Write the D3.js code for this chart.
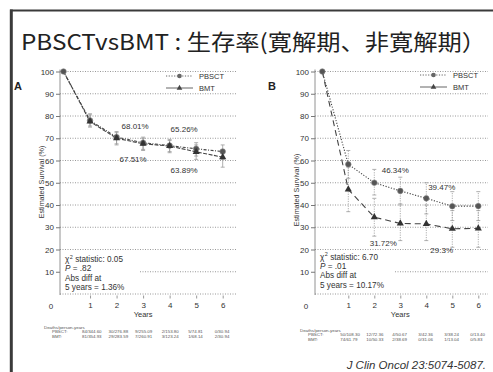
<!DOCTYPE html>
<html>
<head>
<meta charset="utf-8">
<script src="https://cdn.jsdelivr.net/npm/d3@7/dist/d3.min.js"></script>
<style>
  html, body { margin: 0; padding: 0; background: #fff; }
  svg { display: block; }
  text { font-family: "Liberation Sans", Arial, sans-serif; fill: #333; }
</style>
</head>
<body>
<svg id="chart" width="493" height="372"></svg>
<script>
// ---- data ----
const years = [0, 1, 2, 3, 4, 5, 6];
const yTicks = [10, 20, 30, 40, 50, 60, 70, 80, 90, 100];
const seriesNames = ["PBSCT", "BMT"];

// Panel A: remission
const pbsctA = [100, 78, 70.5, 68.01, 66.7, 65.26, 64];
const pbsctALo = [100, 75.5, 67.5, 65, 64, 62, 60.5];
const pbsctAHi = [100, 81, 73, 70.5, 69.5, 68, 67];
const bmtA = [100, 77.5, 70, 67.51, 66.5, 63.89, 61.5];
const bmtALo = [100, 75, 67, 64.5, 63.5, 60.5, 57];
const bmtAHi = [100, 80.5, 72.5, 70, 69, 67, 65];
const statsA = ["0.05", ".82", "1.36%"];
const deathsA = {
  PBSCT: ["84/344.60", "30/276.88", "9/255.09", "2/153.80", "5/74.81", "0/30.94"],
  BMT: ["81/354.93", "29/283.59", "7/260.91", "3/123.24", "1/68.14", "2/30.94"]
};

// Panel B: non-remission
const pbsctB = [100, 58.3, 50, 46.34, 43, 39.47, 39.5];
const pbsctBLo = [100, 52, 44.5, 40.5, 36, 33, 33];
const pbsctBHi = [100, 64.5, 56, 52.5, 50, 46, 46];
const bmtB = [100, 47, 34.5, 31.72, 31.5, 29.3, 29.5];
const bmtBLo = [100, 37, 26, 24, 24, 21, 21];
const bmtBHi = [100, 57, 43, 40, 40, 37.5, 37.5];
const statsB = ["6.70", ".01", "10.17%"];
const deathsB = {
  PBSCT: ["50/108.30", "12/72.36", "4/50.67", "3/42.36", "3/38.24", "0/13.40"],
  BMT: ["74/61.79", "10/50.33", "2/38.69", "0/31.06", "1/13.04", "0/5.83"]
};

const svg = d3.select("#chart");

// frame and title
svg.append("line").attr("x1", 10).attr("x2", 493).attr("y1", 10.5).attr("y2", 10.5)
  .attr("stroke", "#3a3a3a").attr("stroke-width", 2.2);
svg.append("line").attr("x1", 11.3).attr("x2", 11.3).attr("y1", 9.5).attr("y2", 372)
  .attr("stroke", "#3a3a3a").attr("stroke-width", 3);
svg.append("text")
  .attr("x", 21).attr("y", 50)
  .attr("textLength", 465).attr("lengthAdjust", "spacingAndGlyphs")
  .style("font-family", '"Noto Sans CJK JP", "Noto Sans", sans-serif')
  .style("font-size", "22px").style("fill", "#222")
  .text("PBSCTvsBMT : 生存率(寛解期、非寛解期）");

function drawPanel(cfg) {
  const g = svg.append("g");
  const x = d3.scaleLinear().domain([0, 6]).range([cfg.x0, cfg.x6]);
  const y = d3.scaleLinear().domain([0, 100]).range([294, 71.5]);

  // horizontal dotted grid
  const gridVals = [0].concat(yTicks);
  g.selectAll(".grid").data(gridVals).enter().append("line")
    .attr("x1", d => (d === 10 ? cfg.grid10Start : cfg.axisX))
    .attr("x2", cfg.right)
    .attr("y1", d => y(d)).attr("y2", d => y(d))
    .attr("stroke", "#777").attr("stroke-width", 0.75)
    .attr("stroke-dasharray", "1,1.5");

  // y axis
  const yAxis = d3.axisLeft(y).tickValues(yTicks).tickSize(4).tickPadding(2);
  const ya = g.append("g").attr("transform", `translate(${cfg.axisX},0)`).call(yAxis);
  ya.select(".domain").attr("d", `M0,${y(100) - 2}V${y(0) + 1}`).attr("stroke", "#777").attr("stroke-width", 0.8);
  ya.selectAll(".tick line").attr("stroke", "#777");
  ya.selectAll("text").style("font-size", "8px").style("fill", "#333")
    .style("font-family", '"Liberation Sans", Arial, sans-serif');

  // x axis tick labels
  const xAxis = d3.axisBottom(x).tickValues(years.slice(1)).tickSize(3).tickPadding(4).tickFormat(d3.format("d"));
  const xa = g.append("g").attr("transform", `translate(0,${y(0) + 1.5})`).call(xAxis);
  xa.select(".domain").remove();
  xa.selectAll(".tick line").attr("stroke", "#999");
  xa.selectAll("text").style("font-size", "8px").style("fill", "#333")
    .style("font-family", '"Liberation Sans", Arial, sans-serif');
  g.append("text").attr("x", cfg.axisX - 9).attr("y", 309).attr("text-anchor", "middle")
    .style("font-size", "8px").text("0");
  g.append("text").attr("x", x(3)).attr("y", 316.5).attr("text-anchor", "middle")
    .style("font-size", "7.5px").text("Years");

  // axis title
  g.append("text")
    .attr("transform", `translate(${cfg.axisX - 16},${cfg.titleY}) rotate(-90)`)
    .attr("text-anchor", "middle").style("font-size", "7.2px")
    .text("Estimated Survival (%)");

  // panel letter
  g.append("text").attr("x", cfg.letterX).attr("y", 90)
    .style("font-size", "11px").style("font-weight", "bold").style("fill", "#222")
    .text(cfg.letter);

  const series = [
    { name: seriesNames[0], v: cfg.pbsct, lo: cfg.pbsctLo, hi: cfg.pbsctHi, dash: cfg.pbsctDash, marker: "circle" },
    { name: seriesNames[1], v: cfg.bmt, lo: cfg.bmtLo, hi: cfg.bmtHi, dash: cfg.bmtDash, marker: "triangle" }
  ];

  // error bars
  series.forEach(s => {
    const pts = years.map((yr, i) => ({ yr, lo: s.lo[i], hi: s.hi[i] })).filter(d => d.yr > 0);
    const eb = g.append("g").attr("stroke", "#9a9a9a").attr("stroke-width", 0.8);
    eb.selectAll(".v").data(pts).enter().append("line")
      .attr("x1", d => x(d.yr)).attr("x2", d => x(d.yr))
      .attr("y1", d => y(d.lo)).attr("y2", d => y(d.hi))
      .attr("stroke-dasharray", cfg.barDash);
    eb.selectAll(".cl").data(pts).enter().append("line")
      .attr("x1", d => x(d.yr) - 2).attr("x2", d => x(d.yr) + 2)
      .attr("y1", d => y(d.lo)).attr("y2", d => y(d.lo));
    eb.selectAll(".ch").data(pts).enter().append("line")
      .attr("x1", d => x(d.yr) - 2).attr("x2", d => x(d.yr) + 2)
      .attr("y1", d => y(d.hi)).attr("y2", d => y(d.hi));
  });

  // survival lines
  const line = d3.line().x((d, i) => x(years[i])).y(d => y(d));
  series.forEach(s => {
    g.append("path").datum(s.v).attr("d", line)
      .attr("fill", "none").attr("stroke", "#444").attr("stroke-width", 1.1)
      .attr("stroke-dasharray", s.dash);
  });

  // markers
  const triangle = d3.symbol().type(d3.symbolTriangle).size(22);
  series.forEach(s => {
    if (s.marker === "circle") {
      g.selectAll(null).data(s.v).enter().append("circle")
        .attr("cx", (d, i) => x(years[i])).attr("cy", d => y(d)).attr("r", 2.8)
        .attr("fill", "#555").attr("stroke", "#888").attr("stroke-width", 0.6);
    } else {
      g.selectAll(null).data(s.v.slice(1)).enter().append("path")
        .attr("d", triangle)
        .attr("transform", (d, i) => `translate(${x(years[i + 1])},${y(d)})`)
        .attr("fill", "#333");
    }
  });

  // value labels
  cfg.labels.forEach(l => {
    const s = series[l.s];
    g.append("text").attr("x", x(l.yr) + l.dx).attr("y", y(s.v[l.yr]) + l.dy)
      .attr("text-anchor", "middle").style("font-size", "8px").style("fill", "#333")
      .text(d3.format(l.fmt)(s.v[l.yr]) + "%");
  });

  // legend
  series.forEach((s, i) => {
    const ly = cfg.legendY + i * 12;
    g.append("line").attr("x1", cfg.legendX).attr("x2", cfg.legendX + 27)
      .attr("y1", ly).attr("y2", ly).attr("stroke", "#555").attr("stroke-width", 0.9)
      .attr("stroke-dasharray", i === 0 ? "1.2,1.5" : "none");
    if (i === 0) {
      g.append("circle").attr("cx", cfg.legendX + 13.5).attr("cy", ly).attr("r", 2.3).attr("fill", "#666");
    } else {
      g.append("path").attr("d", d3.symbol().type(d3.symbolTriangle).size(14))
        .attr("transform", `translate(${cfg.legendX + 13.5},${ly})`).attr("fill", "#444");
    }
    g.append("text").attr("x", cfg.legendX + 33).attr("y", ly + 3)
      .style("font-size", "7.5px").text(s.name);
  });

  // statistics block
  const st = g.append("text").attr("x", cfg.axisX + 5).attr("y", cfg.statY).style("font-size", "8.2px");
  st.append("tspan").text("χ");
  st.append("tspan").attr("dy", -3.5).attr("dx", 0.5).style("font-size", "5.5px").text("2");
  st.append("tspan").attr("dy", 3.5).text(" statistic: " + cfg.stats[0]);
  const st2 = g.append("text").attr("x", cfg.axisX + 5).attr("y", cfg.statY + 9.4).style("font-size", "8.2px");
  st2.append("tspan").style("font-style", "italic").text("P");
  st2.append("tspan").text(" = " + cfg.stats[1]);
  g.append("text").attr("x", cfg.axisX + 5).attr("y", cfg.statY + 18.8).style("font-size", "8.2px")
    .text("Abs diff at");
  g.append("text").attr("x", cfg.axisX + 5).attr("y", cfg.statY + 28.2).style("font-size", "8.2px")
    .text("5 years = " + cfg.stats[2]);

  // deaths / person-years table
  g.append("text").attr("x", cfg.tableX).attr("y", cfg.tableY).style("font-size", "4.4px").style("fill", "#555")
    .text("Deaths/person-years");
  seriesNames.forEach((name, i) => {
    const ry = cfg.tableY + 4.3 * (i + 1);
    g.append("text").attr("x", cfg.tableX + 8).attr("y", ry).style("font-size", "4.4px").style("fill", "#555")
      .text(name + ":");
    g.selectAll(null).data(cfg.deaths[name]).enter().append("text")
      .attr("x", (d, j) => x(years[j + 1]) - 8).attr("y", ry)
      .style("font-size", "4.4px").style("fill", "#555")
      .text(d => d);
  });
}

drawPanel({
  letter: "A", letterX: 14, x0: 63.5, x6: 222.7, axisX: 60, right: 237, grid10Start: 140,
  titleY: 182, pbsct: pbsctA, pbsctLo: pbsctALo, pbsctHi: pbsctAHi,
  bmt: bmtA, bmtLo: bmtALo, bmtHi: bmtAHi,
  pbsctDash: "3,1.5,1,1.5", bmtDash: "4,1.5", barDash: "none",
  labels: [
    { s: 0, yr: 3, dx: -8, dy: -14, fmt: ".2f" },
    { s: 1, yr: 3, dx: -10, dy: 18, fmt: ".2f" },
    { s: 0, yr: 5, dx: -12, dy: -17, fmt: ".2f" },
    { s: 1, yr: 5, dx: -12, dy: 21, fmt: ".2f" }
  ],
  legendX: 166, legendY: 76, stats: statsA, statY: 262,
  deaths: deathsA, tableX: 44, tableY: 329
});

drawPanel({
  letter: "B", letterX: 268, x0: 322.3, x6: 478.3, axisX: 315, right: 488, grid10Start: 395,
  titleY: 190, pbsct: pbsctB, pbsctLo: pbsctBLo, pbsctHi: pbsctBHi,
  bmt: bmtB, bmtLo: bmtBLo, bmtHi: bmtBHi,
  pbsctDash: "1.2,1.6", bmtDash: "6,4", barDash: "1.2,1.2",
  labels: [
    { s: 0, yr: 3, dx: -5, dy: -18, fmt: ".2f" },
    { s: 0, yr: 5, dx: -10.6, dy: -16, fmt: ".2f" },
    { s: 1, yr: 3, dx: -17, dy: 22.6, fmt: ".2f" },
    { s: 1, yr: 5, dx: -10.6, dy: 24, fmt: ".1f" }
  ],
  legendX: 420, legendY: 75, stats: statsB, statY: 259.5,
  deaths: deathsB, tableX: 300, tableY: 332
});

// citation
svg.append("text").attr("x", 486).attr("y", 369).attr("text-anchor", "end")
  .style("font-size", "11.5px").style("font-style", "italic").style("fill", "#333")
  .text("J Clin Oncol 23:5074-5087.");
</script>
</body>
</html>
